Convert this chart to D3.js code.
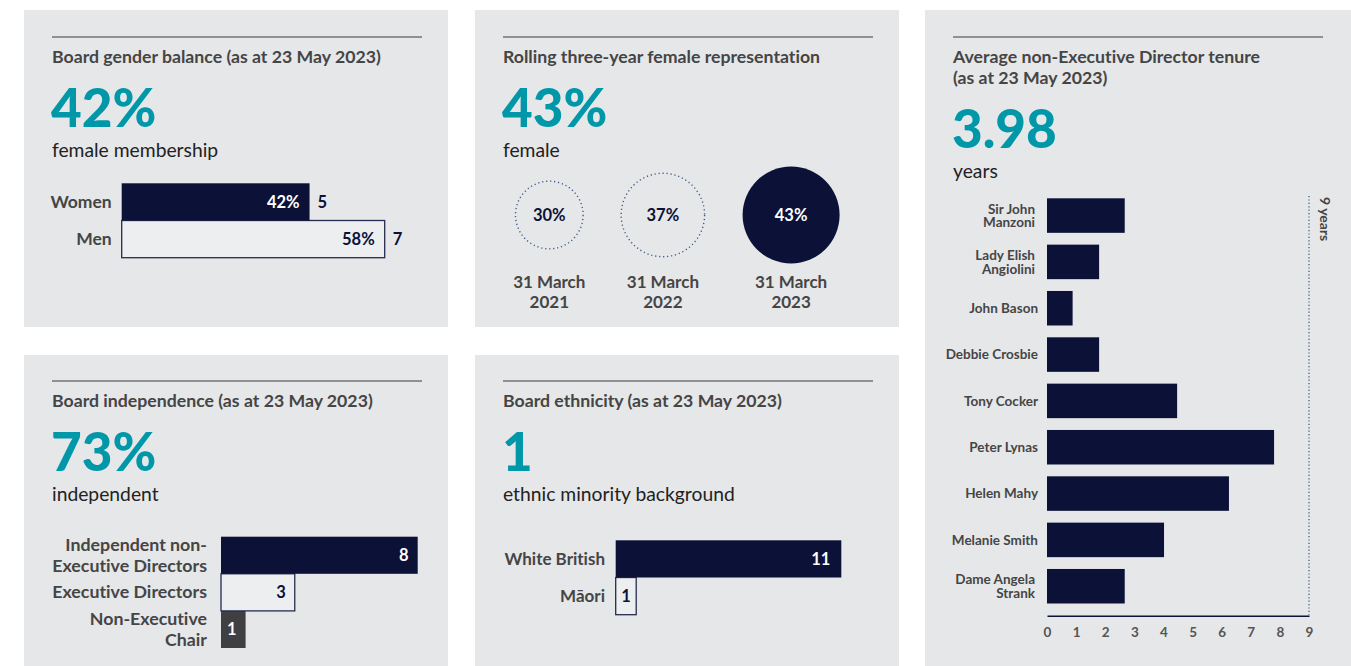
<!DOCTYPE html>
<html>
<head>
<meta charset="utf-8">
<script src="https://cdn.jsdelivr.net/npm/d3@7"></script>
<style>
  html, body { margin: 0; padding: 0; background: #ffffff; }
  svg { display: block; }
  text { font-family: Lato, "Open Sans", sans-serif; font-variant-ligatures: none; font-feature-settings: "liga" 0; }
</style>
</head>
<body>
<svg id="chart" width="1351" height="666"></svg>
<script>
// ---- Data ----
const genderCategories = ["Women", "Men"];
const genderCounts = [5, 7];
const genderShares = [42, 58];

const trendDates = [["31 March", "2021"], ["31 March", "2022"], ["31 March", "2023"]];
const trendValues = [30, 37, 43];

const tenureNames = [
  ["Sir John", "Manzoni"], ["Lady Elish", "Angiolini"], ["John Bason"], ["Debbie Crosbie"],
  ["Tony Cocker"], ["Peter Lynas"], ["Helen Mahy"], ["Melanie Smith"], ["Dame Angela", "Strank"]
];
const tenureYears = [2.67, 1.79, 0.88, 1.79, 4.47, 7.8, 6.25, 4.02, 2.67];
const tenureTicks = [0, 1, 2, 3, 4, 5, 6, 7, 8, 9];
const tenureLimit = 9;

const independenceCategories = [["Independent non-", "Executive Directors"], ["Executive Directors"], ["Non-Executive", "Chair"]];
const independenceCounts = [8, 3, 1];

const ethnicityCategories = ["White British", "Māori"];
const ethnicityCounts = [11, 1];

const headlines = ["42%", "43%", "3.98", "73%", "1"];
const headlineNotes = ["female membership", "female", "years", "independent", "ethnic minority background"];
const panelTitles = [
  ["Board gender balance (as at 23 May 2023)"],
  ["Rolling three-year female representation"],
  ["Average non-Executive Director tenure", "(as at 23 May 2023)"],
  ["Board independence (as at 23 May 2023)"],
  ["Board ethnicity (as at 23 May 2023)"]
];

// ---- Style ----
const NAVY = "#0b1137";
const OUTLINE = "#262c4e";
const DOTS = "#3e5a8a";
const TEAL = "#0098a9";
const PANEL = "#e6e7e9";
const LIGHT = "#eceef0";
const GREY_BAR = "#404042";
const LABEL = "#454545";

const svg = d3.select("#chart");

// Panel frames
const panels = [
  { x: 24, y: 10, w: 424, h: 317 },
  { x: 475, y: 10, w: 424, h: 317 },
  { x: 925, y: 10, w: 426, h: 660 },
  { x: 24, y: 355, w: 424, h: 315 },
  { x: 475, y: 355, w: 424, h: 315 }
];
// Title rule position for each panel
const headerTops = [37, 37, 37, 381, 381];

panels.forEach((p, i) => {
  const g = svg.append("g");
  g.append("rect").attr("x", p.x).attr("y", p.y).attr("width", p.w).attr("height", p.h).attr("fill", PANEL);
  const left = p.x + 28;
  const ruleY = headerTops[i];
  g.append("line").attr("x1", left).attr("x2", left + 370).attr("y1", ruleY).attr("y2", ruleY)
    .attr("stroke", "#3a3a3a").attr("stroke-width", 1);
  const t = g.append("text").attr("x", left).attr("y", ruleY + 26)
    .attr("font-size", 17.7).attr("font-weight", 700).attr("fill", LABEL);
  panelTitles[i].forEach((line, k) => {
    t.append("tspan").attr("x", left).attr("dy", k === 0 ? 0 : 21).text(line);
  });
  const extra = panelTitles[i].length > 1 ? 21 : 0;
  g.append("text").attr("x", left - 1).attr("y", ruleY + 90 + extra)
    .attr("font-size", 53).attr("font-weight", 900).attr("fill", TEAL).text(headlines[i]);
  g.append("text").attr("x", left).attr("y", ruleY + 120 + extra)
    .attr("font-size", 19.3).attr("fill", "#222").text(headlineNotes[i]);
});

// ---- Board gender balance ----
{
  const x = d3.scaleLinear().domain([0, 7]).range([121.7, 384.7]);
  const y = d3.scaleBand().domain(genderCategories).range([183.3, 257.7]);
  const g = svg.append("g");
  const data = genderCategories.map((c, i) => ({ c, n: genderCounts[i], s: genderShares[i], i }));
  // draw outlined bar first so the filled one sits on top
  data.slice().reverse().forEach(d => {
    const filled = d.i === 0;
    g.append("rect").attr("x", x(0)).attr("y", y(d.c)).attr("width", x(d.n) - x(0)).attr("height", y.bandwidth())
      .attr("fill", filled ? NAVY : LIGHT).attr("stroke", filled ? "none" : OUTLINE).attr("stroke-width", 1.3);
    g.append("text").attr("x", x(d.n) - 10).attr("y", y(d.c) + y.bandwidth() / 2 + 6)
      .attr("text-anchor", "end").attr("font-size", 16.5).attr("font-weight", 700)
      .attr("fill", filled ? "#fff" : NAVY).text(d.s + "%");
    g.append("text").attr("x", x(d.n) + 8).attr("y", y(d.c) + y.bandwidth() / 2 + 6)
      .attr("font-size", 16.5).attr("font-weight", 700).attr("fill", NAVY).text(d.n);
    g.append("text").attr("x", x(0) - 10).attr("y", y(d.c) + y.bandwidth() / 2 + 6)
      .attr("text-anchor", "end").attr("font-size", 17.5).attr("font-weight", 700).attr("fill", LABEL).text(d.c);
  });
}

// ---- Rolling three-year female representation ----
{
  const r = d3.scaleLinear().domain([0, 43]).range([0, 48.5]);
  const gap = 38;
  const cy = 215;
  let cursor = 549.3 - r(trendValues[0]);
  const g = svg.append("g");
  trendValues.forEach((v, i) => {
    const rad = r(v);
    const cx = cursor + rad;
    cursor = cx + rad + gap;
    const last = i === trendValues.length - 1;
    g.append("circle").attr("cx", cx).attr("cy", cy).attr("r", rad)
      .attr("fill", last ? NAVY : "none").attr("stroke", last ? "none" : DOTS)
      .attr("stroke-width", 1.4).attr("stroke-dasharray", last ? null : "1.2 2.8");
    g.append("text").attr("x", cx).attr("y", cy + 6).attr("text-anchor", "middle")
      .attr("font-size", 16.5).attr("font-weight", 700).attr("fill", last ? "#fff" : NAVY).text(v + "%");
    const t = g.append("text").attr("x", cx).attr("y", 287.7).attr("text-anchor", "middle")
      .attr("font-size", 17).attr("font-weight", 700).attr("fill", LABEL);
    trendDates[i].forEach((line, k) => t.append("tspan").attr("x", cx).attr("dy", k === 0 ? 0 : 20.5).text(line));
  });
}

// ---- Average non-Executive Director tenure ----
{
  const keys = tenureNames.map(n => n.join(" "));
  const x = d3.scaleLinear().domain([0, tenureLimit]).range([1047, 1309]);
  const y = d3.scaleBand().domain(keys).range([192.4, 609.4]).paddingInner(0.255).paddingOuter(0.1275);
  const g = svg.append("g");
  keys.forEach((k, i) => {
    g.append("rect").attr("x", x(0)).attr("y", y(k)).attr("width", x(tenureYears[i]) - x(0))
      .attr("height", y.bandwidth()).attr("fill", NAVY);
    const lines = tenureNames[i];
    const mid = y(k) + y.bandwidth() / 2;
    const t = g.append("text").attr("text-anchor", "end").attr("font-size", 13.5).attr("font-weight", 700)
      .attr("fill", LABEL).attr("y", mid + 4.8 - (lines.length - 1) * 6.7);
    lines.forEach((line, j) => t.append("tspan").attr("x", lines.length > 1 ? 1035 : 1038)
      .attr("dy", j === 0 ? 0 : 13.5).text(line));
  });
  // 9-year limit marker
  g.append("line").attr("x1", x(tenureLimit)).attr("x2", x(tenureLimit)).attr("y1", 196).attr("y2", 615)
    .attr("stroke", DOTS).attr("stroke-width", 1.3).attr("stroke-dasharray", "1.2 2.2");
  g.append("text").attr("transform", `translate(${x(tenureLimit) + 11},197) rotate(90)`)
    .attr("font-size", 14).attr("font-weight", 700).attr("fill", LABEL).text(tenureLimit + " years");
  // axis
  const axis = g.append("g").attr("transform", "translate(0,615.7)")
    .call(d3.axisBottom(x).tickValues(tenureTicks).tickSize(0).tickPadding(12).tickFormat(d3.format("d")));
  axis.select(".domain").attr("stroke", NAVY).attr("stroke-width", 1.6);
  axis.selectAll("text").attr("font-size", 13.5).attr("font-weight", 700).attr("fill", "#555")
    .attr("font-family", "Lato, sans-serif");
}

// ---- Board independence ----
{
  const keys = independenceCategories.map(c => c.join(" "));
  const x = d3.scaleLinear().domain([0, 8]).range([221, 417.7]);
  const y = d3.scaleBand().domain(keys).range([536.7, 648]);
  const fills = [NAVY, LIGHT, GREY_BAR];
  const textFills = ["#fff", NAVY, "#fff"];
  const g = svg.append("g");
  const order = [2, 1, 0];
  order.forEach(i => {
    const k = keys[i];
    g.append("rect").attr("x", x(0)).attr("y", y(k)).attr("width", x(independenceCounts[i]) - x(0))
      .attr("height", y.bandwidth()).attr("fill", fills[i])
      .attr("stroke", i === 1 ? OUTLINE : "none").attr("stroke-width", 1.3);
    g.append("text").attr("x", x(independenceCounts[i]) - 9).attr("y", y(k) + y.bandwidth() / 2 + 6)
      .attr("text-anchor", "end").attr("font-size", 16.5).attr("font-weight", 700).attr("fill", textFills[i])
      .text(independenceCounts[i]);
    const lines = independenceCategories[i];
    const t = g.append("text").attr("text-anchor", "end").attr("font-size", 17.8).attr("font-weight", 700)
      .attr("fill", LABEL).attr("y", y(k) + y.bandwidth() / 2 + 6 - (lines.length - 1) * 10.5);
    lines.forEach((line, j) => t.append("tspan").attr("x", 207).attr("dy", j === 0 ? 0 : 21).text(line));
  });
}

// ---- Board ethnicity ----
{
  const x = d3.scaleLinear().domain([0, 11]).range([615.7, 841.3]);
  const y = d3.scaleBand().domain(ethnicityCategories).range([540.3, 614.7]);
  const g = svg.append("g");
  [1, 0].forEach(i => {
    const c = ethnicityCategories[i];
    const filled = i === 0;
    g.append("rect").attr("x", x(0)).attr("y", y(c)).attr("width", x(ethnicityCounts[i]) - x(0))
      .attr("height", y.bandwidth()).attr("fill", filled ? NAVY : LIGHT)
      .attr("stroke", filled ? "none" : OUTLINE).attr("stroke-width", 1.3);
    g.append("text").attr("x", filled ? x(ethnicityCounts[i]) - 11 : (x(0) + x(ethnicityCounts[i])) / 2)
      .attr("y", y(c) + y.bandwidth() / 2 + 6)
      .attr("text-anchor", filled ? "end" : "middle").attr("font-size", 16.5).attr("font-weight", 700)
      .attr("fill", filled ? "#fff" : NAVY).text(ethnicityCounts[i]);
    g.append("text").attr("x", 605).attr("y", y(c) + y.bandwidth() / 2 + 6)
      .attr("text-anchor", "end").attr("font-size", 17).attr("font-weight", 700).attr("fill", LABEL).text(c);
  });
}
</script>
</body>
</html>
